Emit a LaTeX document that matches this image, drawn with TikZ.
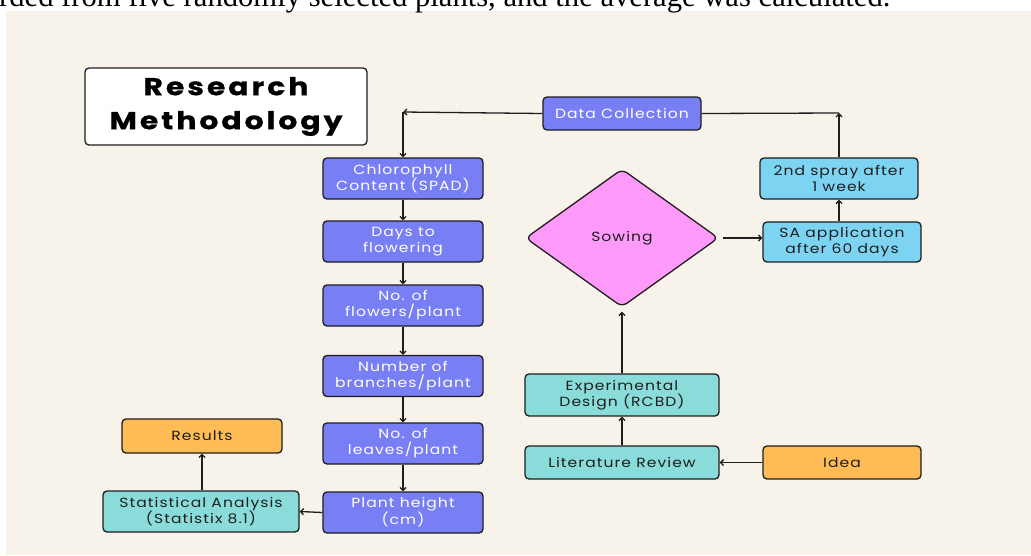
\documentclass[tikz,border=0pt]{standalone}
\usepackage{fontspec}
\setmainfont{Liberation Serif}
\newfontfamily\boxfont{Poppins}[LetterSpace=8, FakeStretch=1.17]
\newfontfamily\titlefont{Poppins}[LetterSpace=12, FakeStretch=1.22, BoldFeatures={FakeBold=0.8}]
\usetikzlibrary{shapes.geometric,arrows.meta}
\definecolor{bgbeige}{HTML}{F7F2EA}
\definecolor{cpurple}{HTML}{787EF4}
\definecolor{ccyan}{HTML}{7DD4F2}
\definecolor{cteal}{HTML}{8ADCDA}
\definecolor{corange}{HTML}{FFBB55}
\definecolor{cpink}{HTML}{FF99FA}
\definecolor{cedge}{HTML}{1E1E1E}
\tikzset{
  box/.style={rectangle, rounded corners=4pt, draw=cedge, line width=1.3pt,
    align=center, inner sep=0pt, font=\boxfont\fontsize{13.3}{16}\selectfont, text=cedge},
  purplebox/.style={box, fill=cpurple, text=white, minimum width=160pt, minimum height=41pt},
  cyanbox/.style={box, fill=ccyan, minimum width=158pt, minimum height=41pt},
  tealbox/.style={box, fill=cteal},
  orangebox/.style={box, fill=corange},
  arr/.style={line width=1.3pt, draw=cedge, -{Straight Barb[length=3pt,width=6pt]}},
  plain/.style={line width=1.3pt, draw=cedge},
}
\begin{document}
\begin{tikzpicture}[x=1pt,y=-1pt]
\useasboundingbox (0,0) rectangle (1031,555);
\clip (0,0) rectangle (1031,555);
\fill[white] (0,0) rectangle (1031,555);
\fill[bgbeige] (6,11) rectangle (1031,555);
\node[anchor=base west, inner sep=0pt] (toptext) at (-1,6)
  {\resizebox{891pt}{!}{rded from five randomly selected plants, and the average was calculated.}};
% title
\node[box, fill=white, minimum width=282pt, minimum height=77pt,
  font=\titlefont\bfseries\fontsize{24.5}{34}\selectfont, text=black] (title) at (226,106.5)
  {Research\\Methodology};
% purple column
\node[purplebox] (chl) at (403,178.5) {Chlorophyll\\Content (SPAD)};
\node[purplebox] (days) at (403,241.5) {Days to\\flowering};
\node[purplebox] (flow) at (403,305.5) {No. of\\flowers/plant};
\node[purplebox] (branch) at (403,376) {Number of\\branches/plant};
\node[purplebox] (leaves) at (403,443.5) {No. of\\leaves/plant};
\node[purplebox] (height) at (403,512.5) {Plant height\\(cm)};
\node[tealbox, minimum width=196pt, minimum height=41pt] (stat) at (201,511.5) {Statistical Analysis\\(Statistix 8.1)};
\node[orangebox, minimum width=160pt, minimum height=34pt] (results) at (202,436) {Results};
\node[purplebox, minimum width=158pt, minimum height=33pt] (datacol) at (622,113.5) {Data Collection};
\node[cyanbox] (spray) at (839,178.5) {2nd spray after\\1 week};
\node[cyanbox, minimum height=40pt] (sa) at (842,242) {SA application\\after 60 days};
\node[box, diamond, fill=cpink, rounded corners=6pt, minimum width=193pt, minimum height=138pt] (sowing) at (622,238) {Sowing};
\node[tealbox, minimum width=194pt, minimum height=42pt] (exp) at (622,395) {Experimental\\Design (RCBD)};
\node[tealbox, minimum width=194pt, minimum height=33pt] (lit) at (622,462.5) {Literature Review};
\node[orangebox, minimum width=158pt, minimum height=33pt] (idea) at (842,462.5) {Idea};
% connectors
\coordinate (cl) at (403,112);
\coordinate (cr) at (839,113);
\draw[arr] (datacol.west) -- (cl);
\draw[arr] (cl) -- (chl.north);
\draw[arr] (chl) -- (days);
\draw[arr] (days) -- (flow);
\draw[arr] (flow) -- (branch);
\draw[arr] (branch) -- (leaves);
\draw[arr] (leaves) -- (height);
\draw[arr] (height.west) -- (stat.east);
\draw[arr] (stat.north -| results.south) -- (results.south);
\draw[arr] (spray.north) -- (cr);
\draw[plain] (cr) -- (datacol.east);
\draw[arr] (sa.north -| spray.south) -- (spray.south);
\draw[arr] ([xshift=4pt]sowing.east) -- (sowing.east -| sa.west);
\draw[arr] (exp.north) -- ([yshift=-4pt]sowing.south);
\draw[arr] (lit.north) -- (exp.south);
\draw[arr] (idea.west) -- (lit.east);
\end{tikzpicture}
\end{document}
